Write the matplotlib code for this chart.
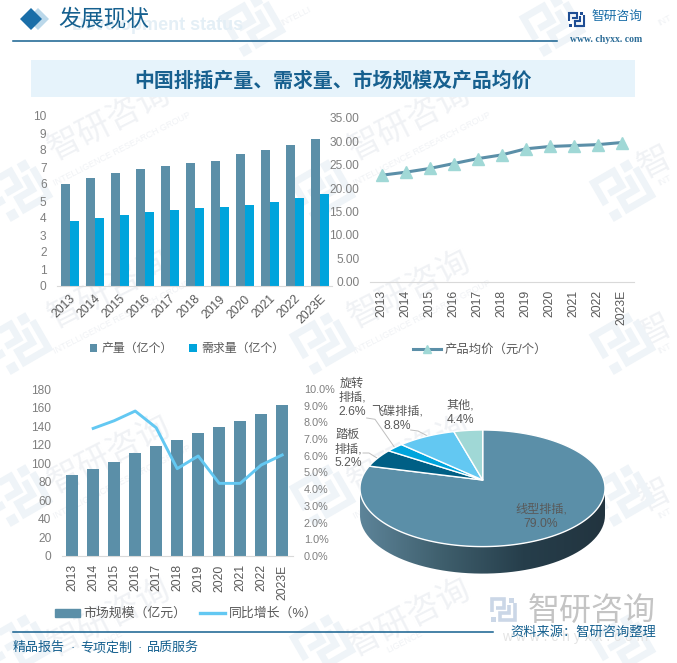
import numpy as np
import matplotlib
matplotlib.use("Agg")
from matplotlib import pyplot as plt
from matplotlib.patches import Polygon, Rectangle, PathPatch
from matplotlib.path import Path
from matplotlib.colors import LinearSegmentedColormap
from matplotlib.lines import Line2D

plt.rcParams['font.family'] = ['Liberation Sans', 'Noto Sans CJK SC']

W, H = 677, 663

years = ['2013', '2014', '2015', '2016', '2017', '2018', '2019', '2020', '2021', '2022', '2023E']
output = [6.0, 6.35, 6.65, 6.88, 7.06, 7.24, 7.35, 7.76, 8.0, 8.3, 8.65]
demand = [3.82, 4.0, 4.18, 4.35, 4.47, 4.59, 4.65, 4.76, 4.94, 5.18, 5.41]
price = [22.75, 23.4, 24.2, 25.25, 26.3, 27.1, 28.4, 28.9, 29.1, 29.3, 29.75]
market = [87.3, 93.8, 101.3, 111, 118.6, 125, 132.6, 139, 145.5, 153, 162.8]
growth = [7.64, 8.1, 8.68, 7.68, 5.23, 5.99, 4.35, 4.35, 5.45, 6.05]
pie_names = ['线型排插', '踏板排插', '旋转排插', '飞碟排插', '其他']
pie_shares = [79.0, 5.2, 2.6, 8.8, 4.4]

BLUE = '#5B8FA8'
CYAN = '#00A4DC'
SKY = '#63C8F2'
MINT = '#A0D8D6'
DARK = '#005F85'
NAVY = '#15608F'
GREY = '#7F7F7F'
TEXT = '#595959'
WM = '#F0F2F5'

fig = plt.figure(figsize=(W / 100, H / 100), dpi=100)

# full figure layer in pixel coordinates, for the page furniture and the pie
bg = fig.add_axes([0, 0, 1, 1], zorder=0)
bg.axis('off')


def logo(x, y, size, color, angle=0, lw=None):
    rot = np.radians(angle)
    strokes = [[(0.06, 0.58), (0.06, 0.08), (0.52, 0.08), (0.52, 0.42), (0.22, 0.42)],
               [(0.94, 0.24), (0.94, 0.88), (0.38, 0.88), (0.38, 0.62), (0.72, 0.62), (0.72, 0.3)]]
    squares = [(0.02, 0.76), (0.7, 0.02)]
    lw = lw if lw else size * 0.1
    for s in strokes:
        p = (np.array(s) - 0.5) * size
        xx = x + p[:, 0] * np.cos(rot) + p[:, 1] * np.sin(rot)
        yy = y - p[:, 0] * np.sin(rot) + p[:, 1] * np.cos(rot)
        bg.plot(xx, yy, color=color, lw=lw, solid_joinstyle='miter', solid_capstyle='butt', zorder=1)
    for sx, sy in squares:
        c = np.array([[sx, sy], [sx + .2, sy], [sx + .2, sy + .2], [sx, sy + .2]])
        p = (c - 0.5) * size
        xx = x + p[:, 0] * np.cos(rot) + p[:, 1] * np.sin(rot)
        yy = y - p[:, 0] * np.sin(rot) + p[:, 1] * np.cos(rot)
        bg.add_patch(Polygon(np.c_[xx, yy], fc=color, ec='none', zorder=1))


# watermark
for wy in [122, 290, 455, 618]:
    for wx in [110, 410]:
        bg.text(wx, wy, '智研咨询', fontsize=24, color=WM, rotation=27, ha='center', va='center', zorder=1)
        if wy < 600:
            bg.text(wx + 12, wy + 27, 'INTELLIGENCE RESEARCH GROUP', fontsize=6.5, color=WM, rotation=27,
                    ha='center', va='center', zorder=1)
        else:
            bg.text(wx - 5, wy + 24, 'LIGENCE', fontsize=6.5, color=WM, rotation=27, ha='center', va='center', zorder=1)
    if wy < 600:
        bg.text(655, wy + 41, '智', fontsize=24, color=WM, rotation=27, ha='center', va='center', zorder=1)
        bg.text(664, wy + 58, 'INT', fontsize=6.5, color=WM, rotation=27, ha='center', va='center', zorder=1)
bg.text(296, 16, 'INTELLI', fontsize=6.5, color=WM, rotation=27, ha='center', va='center', zorder=1)
bg.text(664, 20, 'INT', fontsize=6.5, color=WM, rotation=27, ha='center', va='center', zorder=1)
for ly in [25, 190, 343, 495, 645]:
    for lx in [20, 323, 623]:
        logo(lx - (70 if ly == 25 else 0), ly, 50, '#EFF4F8', angle=30)

# header
bg.add_patch(Polygon([(38, 8), (49, 19), (38, 30), (27, 19)], fc='#BBD8EA', ec='none', zorder=2))
bg.add_patch(Polygon([(31, 8), (42, 19), (31, 30), (20, 19)], fc='#1A6EA8', ec='none', zorder=2))
bg.text(243, 25, 'Development status', fontsize=13, fontweight='bold', color='#E4EFF6', ha='right', va='center', zorder=2)
bg.text(58, 19, '发展现状', fontsize=16.4, color=NAVY, va='center', zorder=3)
bg.plot([13, 557], [40.5, 40.5], color=NAVY, lw=1.1, zorder=3)
logo(576.5, 19.5, 16, '#1F4E94', lw=1.5)
bg.text(592, 18, '智研咨询', fontsize=9.2, color='#1A6EA8', va='center', zorder=3)
bg.text(606, 39, 'www. chyxx. com', fontsize=7, color='#2A6B96', family='Liberation Serif', fontweight='bold',
        ha='center', va='center', zorder=3)

# title band
bg.add_patch(Rectangle((31, 60), 604, 37, fc='#E6F3FB', ec='none', zorder=2))
bg.text(333, 81, '中国排插产量、需求量、市场规模及产品均价', fontsize=14.3, fontweight='bold', color='#17608F',
        ha='center', va='center', zorder=3)

# footer
bg.plot([13, 493], [632, 632], color=NAVY, lw=1.1, zorder=3)
for fx, ft in [(13, '精品报告'), (80, '专项定制'), (147, '品质服务')]:
    bg.text(fx, 648, ft, fontsize=9.4, color=NAVY, va='center', zorder=3)
for fx in [72.5, 139.5]:
    bg.text(fx, 648, '·', fontsize=9.4, color=NAVY, ha='center', va='center', zorder=3)
logo(503.5, 610, 26, '#CBD7E7')
bg.text(528, 612, '智研咨询', fontsize=23, color='#C4C4C4', va='center', zorder=2)
bg.text(575, 637, 'w w w . c h y x x . c o m', fontsize=10, color='#E4E4E4', ha='center', va='center', zorder=2)
bg.text(510, 633, '资料来源：智研咨询整理', fontsize=9.5, color=NAVY, va='center', zorder=3)

# pie, the rays start off centre to give the tilted look
apex = np.array([482.7, 480.0])
cx, cy, a, b = 482.5, 488.3, 122.5, 58.3
depth = 27


def rim(theta):
    d = np.array([a * np.sin(theta), -b * np.cos(theta)])
    o = apex - np.array([cx, cy])
    A = (d[0] / a) ** 2 + (d[1] / b) ** 2
    B = 2 * (o[0] * d[0] / a ** 2 + o[1] * d[1] / b ** 2)
    C = (o[0] / a) ** 2 + (o[1] / b) ** 2 - 1
    t = (-B + np.sqrt(B * B - 4 * A * C)) / (2 * A)
    return apex + t * d


def ellipse_arc(start, end, n=120):
    # plain ellipse parameter, clockwise from the top
    return np.array([(cx + a * np.sin(t), cy - b * np.cos(t)) for t in np.linspace(start, end, n)])


low = ellipse_arc(np.pi / 2, 3 * np.pi / 2)
side = np.vstack([low, low[::-1] + [0, depth]])
side_path = PathPatch(Path(side), transform=bg.transData, fc='none', ec='none')
bg.add_patch(side_path)
cmap = LinearSegmentedColormap.from_list('side', ['#22343F', '#263E4B', '#3F5F6D', '#5D8499'])
img = bg.imshow(np.linspace(0, 1, 256)[None, :], cmap=cmap, aspect='auto', zorder=4,
                extent=(cx + a, cx - a, cy + b + depth, cy))
img.set_clip_path(side_path)

pie_colors = [BLUE, DARK, CYAN, SKY, MINT]
ang = 0.0
for share, col in zip(pie_shares, pie_colors):
    th = np.linspace(ang, ang + share / 100 * 2 * np.pi, max(int(share * 3), 6))
    pts = np.array([rim(t) for t in th])
    bg.add_patch(Polygon(np.vstack([apex, pts]), fc=col, ec='white', lw=1.0, zorder=5, joinstyle='round'))
    ang += share / 100 * 2 * np.pi

lab = dict(fontsize=8.7, color=TEXT, ha='center', va='center', zorder=6, linespacing=1.25)
bg.text(541, 517, f'{pie_names[0]},\n{pie_shares[0]:.1f}%', **lab)
bg.text(352, 398, f'旋转\n排插,\n{pie_shares[2]:.1f}%', **lab)
bg.text(348, 449, f'踏板\n排插,\n{pie_shares[1]:.1f}%', **lab)
bg.text(397, 418.5, f'{pie_names[3]},\n{pie_shares[3]:.1f}%', **lab)
bg.text(460, 412.5, f'{pie_names[4]},\n{pie_shares[4]:.1f}%', **lab)
for lx, ly in [([410.7, 418, 427], [430, 431, 435.7]),
               ([366.7, 375, 395], [418, 419.3, 448]),
               ([363, 369, 377], [453, 453, 458])]:
    bg.plot(lx, ly, color='#BFBFBF', lw=0.7, zorder=4.5)

bg.set_xlim(0, W)
bg.set_ylim(H, 0)


def chart_ax(l, t, r, b_):
    ax = fig.add_axes([l / W, 1 - b_ / H, (r - l) / W, (b_ - t) / H], zorder=1)
    ax.patch.set_alpha(0)
    for s in ['top', 'left', 'right']:
        ax.spines[s].set_visible(False)
    ax.spines['bottom'].set_color('#D9D9D9')
    ax.tick_params(length=0)
    ax.tick_params(axis='y', labelsize=8.6, labelcolor=GREY, pad=7.5)
    ax.tick_params(axis='x', labelsize=8.7, labelcolor=TEXT)
    ax.set_xlim(-0.5, len(years) - 0.5)
    return ax


# output and demand
ax1 = chart_ax(57, 116, 332, 286)
x = np.arange(len(years))
bw = 0.36
ax1.bar(x - bw / 2, output, bw, color=BLUE, label='产量（亿个）')
ax1.bar(x + bw / 2, demand, bw, color=CYAN, label='需求量（亿个）')
ax1.set_ylim(0, 10)
ax1.set_yticks(range(0, 11))
ax1.set_xticks(x, years, rotation=45, ha='right', rotation_mode='anchor')
ax1.tick_params(axis='x', pad=5)
ax1.legend(loc='center', bbox_to_anchor=(187 / W, 1 - 349 / H), bbox_transform=fig.transFigure, ncols=2, frameon=False,
           fontsize=8.6, labelcolor=TEXT, handlelength=0.6, handleheight=0.6, handletextpad=0.4, columnspacing=1.4)

# average price
ax2 = chart_ax(369.7, 118, 633.7, 281.5)
ax2.plot(x, price, color=BLUE, lw=2.2, marker='^', ms=8.6, mfc=MINT, mec=MINT)
ax2.set_ylim(0, 35)
ax2.set_yticks(np.arange(0, 36, 5), [f'{v:.2f}' for v in np.arange(0, 36, 5)])
ax2.set_xticks(x, years, rotation=90)
ax2.tick_params(axis='x', pad=6)
ax2.legend(handles=[Line2D([], [], color=BLUE, lw=2.2, marker='^', ms=6, mfc=MINT, mec=MINT, label='产品均价（元/个）')],
           loc='center', bbox_to_anchor=(480 / W, 1 - 350 / H), bbox_transform=fig.transFigure, frameon=False,
           fontsize=8.9, labelcolor=TEXT, handlelength=2.3, handletextpad=0.3)

# market size and growth
ax3 = chart_ax(61.7, 389, 292.7, 556)
ax3.bar(x, market, 0.57, color=BLUE)
ax3.set_ylim(0, 180)
ax3.set_yticks(range(0, 181, 20))
ax3.set_xticks(x, years, rotation=90)
ax3.tick_params(axis='x', pad=6)
ax3b = ax3.twinx()
ax3b.patch.set_alpha(0)
for s in ['top', 'left', 'right', 'bottom']:
    ax3b.spines[s].set_visible(False)
ax3b.plot(x[1:], growth, color=SKY, lw=2.1, solid_joinstyle='round')
ax3b.set_ylim(0, 10)
ax3b.set_yticks(range(0, 11), [f'{v:.1f}%' for v in range(0, 11)])
ax3b.tick_params(length=0, labelsize=7.8, labelcolor=GREY, pad=8)
ax3.legend(handles=[Rectangle((0, 0), 1, 1, color=BLUE, label='市场规模（亿元）'),
                    Line2D([], [], color=SKY, lw=2.4, label='同比增长（%）')],
           loc='center', bbox_to_anchor=(186 / W, 1 - 614 / H), bbox_transform=fig.transFigure, ncols=2, frameon=False,
           fontsize=9.3, labelcolor=TEXT, handlelength=1.95, handleheight=0.6, handletextpad=0.3, columnspacing=1.0)

fig.savefig('out.png', dpi=100)
